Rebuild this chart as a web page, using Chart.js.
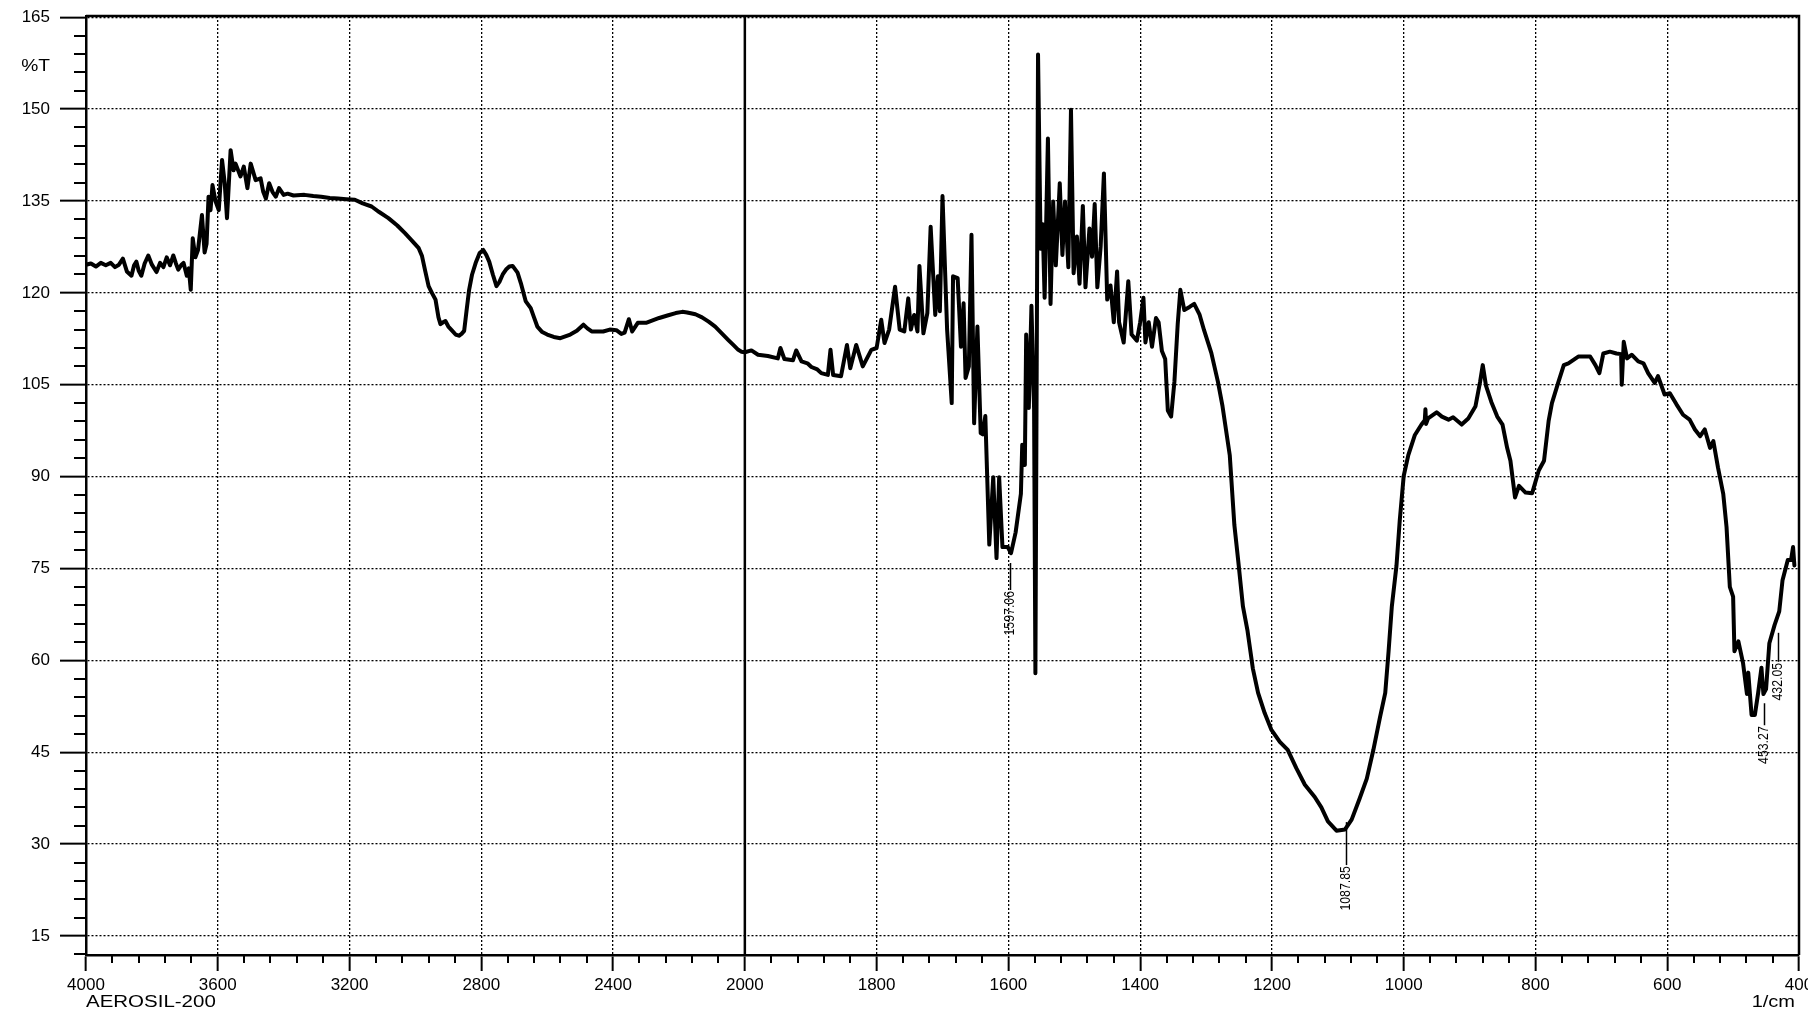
<!DOCTYPE html>
<html>
<head>
<meta charset="utf-8">
<script src="https://cdn.jsdelivr.net/npm/chart.js@4.4.1/dist/chart.umd.min.js"></script>
<style>
  html, body { margin: 0; padding: 0; background: #fff; }
  canvas { display: block; }
</style>
</head>
<body>
<canvas id="myChart" width="1808" height="1011"></canvas>
<script>
// FTIR spectrum of AEROSIL-200
const wavenumbers = [
    4000, 3985, 3970, 3955, 3940, 3925, 3912, 3900, 3888, 3876, 3862, 3854, 3847, 3840, 3832, 3822, 3811, 3800,
    3786, 3775, 3765, 3755, 3745, 3735, 3727, 3720, 3710, 3704, 3694, 3688, 3682, 3676, 3668, 3660, 3648, 3640,
    3634, 3628, 3622, 3616, 3607, 3597, 3587, 3579, 3572, 3561, 3552, 3546, 3531, 3521, 3510, 3500, 3485, 3470,
    3462, 3454, 3444, 3434, 3424, 3414, 3400, 3388, 3370, 3337, 3310, 3286, 3260, 3235, 3210, 3184, 3160, 3133,
    3110, 3082, 3055, 3031, 3010, 2990, 2980, 2970, 2960, 2950, 2939, 2930, 2924, 2916, 2909, 2900, 2888, 2878,
    2868, 2860, 2852, 2845, 2837, 2828, 2817, 2805, 2794, 2785, 2776, 2765, 2754, 2745, 2735, 2725, 2715, 2705,
    2690, 2680, 2665, 2650, 2640, 2630, 2615, 2600, 2580, 2560, 2545, 2530, 2510, 2490, 2478, 2465, 2430, 2410,
    2390, 2375, 2365, 2352, 2342, 2325, 2300, 2280, 2260, 2235, 2210, 2190, 2175, 2150, 2130, 2110, 2090, 2070,
    2050, 2035, 2020, 2010, 2000, 1990, 1980, 1965, 1950, 1946, 1940, 1927, 1922, 1914, 1905, 1899, 1890, 1884,
    1874, 1870, 1866, 1854, 1845, 1840, 1831, 1821, 1808, 1800, 1793, 1788, 1781, 1772, 1765, 1758, 1752, 1748,
    1743, 1738, 1735, 1729, 1723, 1718, 1711, 1707, 1704, 1700, 1693, 1686, 1684, 1677, 1672, 1668, 1665, 1660,
    1656, 1652, 1647, 1642, 1639, 1635, 1629, 1623, 1618, 1614, 1609, 1601, 1596, 1589, 1581, 1579, 1575, 1573,
    1569, 1565, 1561, 1559, 1555, 1551, 1548, 1545, 1540, 1536, 1532, 1528, 1522, 1518, 1514, 1509, 1505, 1501,
    1496, 1492, 1487, 1483, 1477, 1473, 1469, 1465, 1460, 1455, 1450, 1445, 1440, 1435, 1432, 1425, 1418, 1413,
    1405, 1400, 1395, 1392, 1387, 1382, 1376, 1372, 1367, 1362, 1358, 1353, 1348, 1343, 1339, 1333, 1325, 1318,
    1310, 1303, 1292, 1282, 1275, 1264, 1257, 1251, 1244, 1237, 1229, 1221, 1211, 1201, 1188, 1176, 1163, 1150,
    1135, 1125, 1115, 1102, 1089, 1079, 1067, 1056, 1046, 1036, 1028, 1023, 1018, 1011, 1006, 1000, 993, 983,
    973, 968, 967, 966, 963, 950, 942, 932, 925, 912, 902, 891, 884, 880, 875, 867, 858, 850,
    843, 838, 831, 825, 815, 805, 795, 787, 780, 775, 765, 757, 750, 735, 717, 709, 703, 697,
    687, 677, 670, 669, 666, 661, 654, 644, 636, 629, 619, 614, 604, 596, 586, 576, 566, 558,
    550, 543, 535, 530, 523, 515, 510, 505, 500, 498, 492, 485, 479, 477, 472, 467, 462, 457,
    454, 450, 445, 437, 430, 425, 417, 412, 409, 407
];

const transmittance = [
    124.6, 124.8, 124.3, 124.9, 124.5, 124.9, 124.2, 124.6, 125.6, 123.5, 122.8, 124.5, 125.1, 123.6, 122.8, 124.8, 126.1, 124.6,
    123.4, 124.9, 124.2, 125.8, 124.5, 126.1, 124.8, 123.8, 124.6, 124.9, 122.8, 124.0, 120.5, 128.9, 125.8, 127.0, 132.7, 126.6,
    128.0, 135.7, 133.5, 137.6, 135.0, 133.5, 141.7, 138.0, 132.2, 143.3, 140.0, 141.1, 139.0, 140.6, 137.1, 141.1, 138.4, 138.7,
    136.5, 135.4, 137.9, 136.5, 135.7, 137.1, 136.0, 136.2, 135.9, 136.0, 135.8, 135.7, 135.5, 135.4, 135.3, 135.2, 134.6, 134.1,
    133.2, 132.2, 131.0, 129.7, 128.5, 127.3, 126.0, 123.5, 121.1, 120.0, 118.9, 116.0, 114.9, 115.2, 115.4, 114.5, 113.8, 113.2,
    113.0, 113.3, 113.8, 117.0, 120.5, 123.0, 124.9, 126.5, 127.0, 126.2, 125.1, 123.0, 121.1, 121.8, 123.0, 123.8, 124.3, 124.4,
    123.3, 121.6, 118.6, 117.5, 116.0, 114.5, 113.6, 113.2, 112.8, 112.6, 112.9, 113.2, 113.8, 114.8, 114.2, 113.7, 113.7, 114.0,
    113.9, 113.3, 113.5, 115.7, 113.7, 115.1, 115.1, 115.5, 115.9, 116.3, 116.7, 116.9, 116.8, 116.5, 116.0, 115.3, 114.5, 113.4,
    112.3, 111.5, 110.7, 110.4, 110.3, 110.6, 109.9, 109.7, 109.3, 111.0, 109.2, 109.0, 110.6, 108.8, 108.5, 107.9, 107.5, 106.9,
    106.6, 110.7, 106.6, 106.4, 111.5, 107.7, 111.5, 108.0, 110.7, 111.0, 115.6, 111.8, 114.0, 121.0, 114.0, 113.7, 119.1, 114.0,
    116.4, 113.7, 124.4, 113.4, 116.7, 130.8, 116.4, 122.7, 117.0, 135.8, 114.0, 102.0, 122.7, 122.4, 111.2, 118.3, 106.1, 108.0,
    129.5, 98.7, 114.5, 97.1, 96.9, 99.9, 78.9, 89.9, 76.7, 89.9, 78.5, 78.5, 77.5, 80.9, 87.2, 95.2, 91.9, 113.2,
    101.2, 117.9, 101.2, 57.9, 158.9, 127.2, 131.2, 119.2, 145.2, 118.2, 134.9, 124.5, 137.9, 126.2, 134.9, 124.2, 149.9, 123.2,
    129.2, 121.5, 134.2, 120.9, 130.5, 125.9, 134.5, 120.9, 127.5, 139.5, 118.9, 121.2, 115.2, 123.5, 115.2, 111.9, 121.9, 113.2,
    112.2, 115.2, 119.2, 111.9, 115.2, 111.2, 115.9, 115.2, 110.5, 109.2, 100.8, 99.8, 105.5, 114.9, 120.5, 117.2, 117.7, 118.2,
    116.5, 113.9, 110.2, 105.5, 101.5, 93.5, 82.1, 76.1, 68.8, 64.8, 58.7, 54.7, 51.4, 48.7, 46.7, 45.4, 42.4, 39.7,
    37.7, 36.0, 33.7, 32.2, 32.4, 34.0, 37.4, 40.7, 45.4, 50.7, 54.7, 61.4, 68.8, 75.4, 82.8, 90.1, 93.5, 96.8,
    98.5, 99.2, 101.0, 98.6, 99.5, 100.5, 99.8, 99.3, 99.7, 98.5, 99.5, 101.5, 105.5, 108.2, 104.8, 102.2, 99.8, 98.5,
    94.7, 92.6, 86.6, 88.5, 87.4, 87.3, 91.0, 92.6, 99.1, 102.0, 105.5, 108.2, 108.5, 109.6, 109.6, 108.2, 106.9, 110.1,
    110.4, 110.1, 110.0, 105.0, 112.0, 109.3, 109.9, 108.8, 108.5, 106.9, 105.3, 106.4, 103.4, 103.6, 101.8, 100.1, 99.3, 97.7,
    96.6, 97.7, 94.7, 95.8, 91.5, 87.2, 81.8, 72.0, 70.4, 61.5, 63.1, 59.6, 54.5, 58.0, 51.1, 51.1, 54.7, 58.8,
    54.5, 55.3, 62.8, 65.8, 68.0, 73.1, 76.4, 76.4, 78.5, 75.5
];

const xTickLabels = [4000, 3600, 3200, 2800, 2400, 2000, 1800, 1600, 1400, 1200, 1000, 800, 600, 400];
const yTickValues = [15, 30, 45, 60, 75, 90, 105, 120, 135, 150, 165];

// peak labels: wavenumber, text, %T where the leader line starts
const peakWavenumbers = [1597.06, 1087.85, 453.27, 432.05];
const peakLabels = ['1597.06', '1087.85', '453.27', '432.05'];
const peakLineStart = [75.9, 33.6, 53.0, 64.5];

// the instrument plots 4000-2000 at half the scale of 2000-400
function toAxis(wn) {
    return wn >= 2000 ? (4000 - wn) / 400 : 5 + (2000 - wn) / 200;
}

const points = wavenumbers.map((wn, i) => ({ x: toAxis(wn), y: transmittance[i] }));

const FONT = 'Liberation Sans, Arial, Helvetica, sans-serif';
Chart.defaults.font.family = FONT;
Chart.defaults.color = '#000';

const decorations = {
    id: 'decorations',
    afterDraw(chart) {
        const { ctx, chartArea: a, scales: { x, y } } = chart;
        ctx.save();
        ctx.strokeStyle = '#000';
        ctx.fillStyle = '#000';

        // minor ticks
        ctx.lineWidth = 2;
        ctx.beginPath();
        for (let v = 12; v <= 165; v += 3) {
            if (v % 15 === 0) continue;
            const py = Math.round(y.getPixelForValue(v));
            ctx.moveTo(a.left - 12, py);
            ctx.lineTo(a.left, py);
        }
        for (let i = 1; i < 65; i++) {
            if (i % 5 === 0) continue;
            const px = Math.round(x.getPixelForValue(i / 5));
            ctx.moveTo(px, a.bottom);
            ctx.lineTo(px, a.bottom + 8);
        }
        ctx.stroke();

        // frame top / right and the solid scale break at 2000
        ctx.lineWidth = 2.5;
        ctx.beginPath();
        ctx.moveTo(a.left, a.top);
        ctx.lineTo(a.right, a.top);
        ctx.lineTo(a.right, a.bottom);
        const xb = x.getPixelForValue(toAxis(2000));
        ctx.moveTo(xb, a.top);
        ctx.lineTo(xb, a.bottom);
        ctx.stroke();

        // texts
        function stretched(text, px, py, align, sx) {
            ctx.save();
            ctx.translate(px, py);
            ctx.scale(sx, 1);
            ctx.textAlign = align;
            ctx.fillText(text, 0, 0);
            ctx.restore();
        }
        ctx.font = '16px ' + FONT;
        ctx.textBaseline = 'middle';
        stretched('%T', a.left - 36, y.getPixelForValue(157), 'right', 1.2);
        ctx.textBaseline = 'alphabetic';
        stretched('AEROSIL-200', a.left, 1007, 'left', 1.28);
        stretched('1/cm', a.right - 4, 1007, 'right', 1.25);

        // peak annotations
        ctx.lineWidth = 1.5;
        ctx.font = '14px ' + FONT;
        peakWavenumbers.forEach((wn, i) => {
            const px = Math.round(x.getPixelForValue(toAxis(wn))) + 0.5;
            const top = y.getPixelForValue(peakLineStart[i]);
            const len = [27, 43, 22, 29][i];
            ctx.beginPath();
            ctx.moveTo(px, top);
            ctx.lineTo(px, top + len);
            ctx.stroke();
            ctx.save();
            ctx.translate(px, top + len + 1);
            ctx.rotate(-Math.PI / 2);
            ctx.scale(0.88, 1);
            ctx.textAlign = 'right';
            ctx.textBaseline = 'middle';
            ctx.fillText(peakLabels[i], 0, 0);
            ctx.restore();
        });
        ctx.restore();
    }
};

const config = {
    type: 'line',
    data: {
        datasets: [{
            data: points,
            borderColor: '#000',
            borderWidth: 4,
            borderJoinStyle: 'round',
            borderCapStyle: 'round',
            pointRadius: 0,
            tension: 0
        }]
    },
    options: {
        responsive: false,
        animation: false,
        devicePixelRatio: 1,
        layout: { padding: { top: 16, right: 9, left: 0, bottom: 0 } },
        plugins: {
            legend: { display: false },
            tooltip: { enabled: false }
        },
        scales: {
            x: {
                type: 'linear',
                min: 0,
                max: 13,
                ticks: {
                    stepSize: 1,
                    padding: 4,
                    maxRotation: 0,
                    autoSkip: false,
                    font: { size: 17 },
                    callback: (v) => xTickLabels[Math.round(v)]
                },
                grid: { color: '#000', lineWidth: 1.3, tickLength: 16, tickWidth: 2, tickColor: '#000' },
                border: { display: true, color: '#000', width: 2.5, dash: [2, 2] },
                afterFit: (s) => { s.height = 56; s.paddingLeft = 0; s.paddingRight = 0; }
            },
            y: {
                min: 11.9,
                max: 165.2,
                afterBuildTicks: (s) => { s.ticks = yTickValues.map(v => ({ value: v })); },
                ticks: { padding: 10, font: { size: 17 } },
                grid: { color: '#000', lineWidth: 1.3, tickLength: 26, tickWidth: 2, tickColor: '#000' },
                border: { display: true, color: '#000', width: 2.5, dash: [2, 2] },
                afterFit: (s) => { s.width = 86; s.paddingTop = 0; s.paddingBottom = 0; }
            }
        }
    },
    plugins: [decorations]
};

const myChart = new Chart(document.getElementById('myChart'), config);
</script>
</body>
</html>
